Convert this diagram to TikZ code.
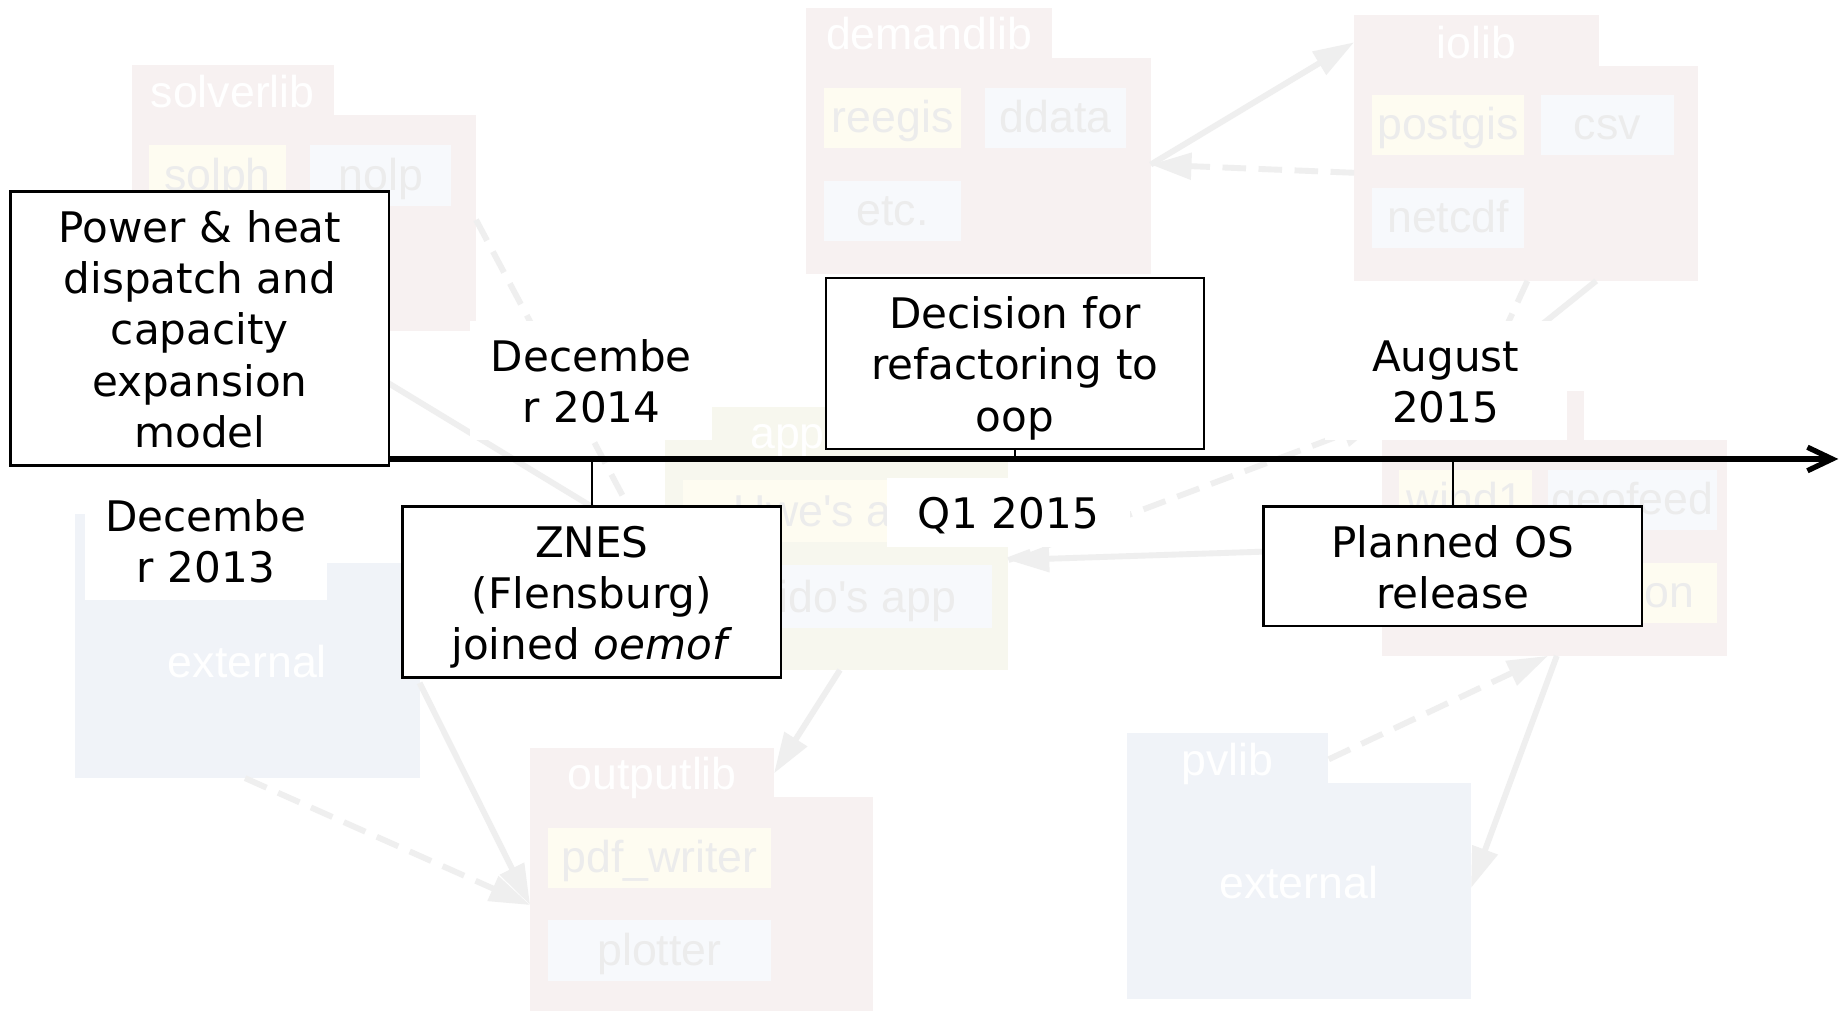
\documentclass[tikz,border=0pt]{standalone}
\usepackage{fontspec}
\setmainfont{DejaVu Sans}
\newfontfamily\pkgfont{Liberation Sans}
\usetikzlibrary{arrows.meta}

\newcommand{\evstrut}{\rule[-0.22em]{0pt}{1.22em}}

\begin{document}
\begin{tikzpicture}[x=0.75pt,y=0.75pt,yscale=-1,xscale=1,
  pkg/.style={fill={rgb, 255:red, 247; green, 241; blue, 241 }},
  extpkg/.style={fill={rgb, 255:red, 240; green, 243; blue, 248 }},
  apppkg/.style={fill={rgb, 255:red, 247; green, 247; blue, 238 }},
  own/.style={fill={rgb, 255:red, 254; green, 252; blue, 241 }},
  other/.style={fill={rgb, 255:red, 247; green, 249; blue, 252 }},
  tabtext/.style={text=white, font=\pkgfont\fontsize{28.5}{34}\selectfont, anchor=base, inner sep=0pt},
  boxtext/.style={tabtext, text={rgb, 255:red, 236; green, 236; blue, 236 }},
  uses/.style={draw={rgb, 255:red, 239; green, 239; blue, 239 }, line width=3.75pt, -{Triangle[length=26pt,width=16.5pt]}},
  maybe/.style={uses, dash pattern=on 15pt off 8pt},
  event/.style={draw, fill=white, line width=1.5pt, text width=229.5pt, inner xsep=6pt, inner ysep=5.36pt, align=center, font=\fontsize{26.85}{32.8}\selectfont, execute at begin node=\evstrut, execute at end node=\evstrut},
  when/.style={event, draw=none, text width=142.5pt},
  stem/.style={line width=1.5pt},
  timeline/.style={line width=3.4pt, -{Straight Barb[length=15.75pt,width=15pt]}}
]
%set diagram size: 1568 x 860
\fill[white] (0,0) rectangle (1568,860);
\useasboundingbox (0,0) rectangle (1568,860);

%Shape: solverlib
\fill[pkg] (112,55) rectangle (284,98);
\fill[pkg] (112,98) rectangle (405,282);
\fill[own] (127,123) rectangle (243,175);
\fill[other] (264,123) rectangle (384,175);
% Text Node
\node[tabtext] (solverlib) at (198,91.5) {solverlib};
\node[boxtext] (solph) at (185,162) {solph};
\node[boxtext] (nolp) at (324,162) {nolp};

%Shape: demandlib
\fill[pkg] (686,7) rectangle (895,49);
\fill[pkg] (686,49) rectangle (979,233);
\fill[own] (701,75) rectangle (818,126);
\fill[other] (838,75) rectangle (958,126);
\fill[other] (701,154) rectangle (818,205);
% Text Node
\node[tabtext] (demandlib) at (790.5,42.5) {demandlib};
\node[boxtext] (reegis) at (759.5,113) {reegis};
\node[boxtext] (ddata) at (898,113) {ddata};
\node[boxtext] (etc) at (759.5,192) {etc.};

%Shape: iolib
\fill[pkg] (1152,13) rectangle (1360,56);
\fill[pkg] (1152,56) rectangle (1445,239);
\fill[own] (1167,81) rectangle (1297,132);
\fill[other] (1311,81) rectangle (1424,132);
\fill[other] (1167,160) rectangle (1297,211);
% Text Node
\node[tabtext] (iolib) at (1256,49.5) {iolib};
\node[boxtext] (postgis) at (1232,119) {postgis};
\node[boxtext] (csv) at (1367.5,119) {csv};
\node[boxtext] (netcdf) at (1232,198) {netcdf};

%Shape: app
\fill[apppkg] (566,346) rectangle (774,388);
\fill[apppkg] (566,388) rectangle (858,570);
\fill[own] (581,408) rectangle (844,461);
\fill[other] (581,481) rectangle (844,534);
% Text Node
\node[tabtext] (app) at (670,381.5) {app};
\node[boxtext] (uwe) at (712.5,448) {Uwe's app};
\node[boxtext] (guido) at (712.5,521) {Guido's app};

%Shape: outputlib
\fill[pkg] (451,636) rectangle (658.5,678);
\fill[pkg] (451,678) rectangle (743,862);
\fill[own] (466,704.5) rectangle (656,755.5);
\fill[other] (466,783) rectangle (656,834.5);
% Text Node
\node[tabtext] (outputlib) at (555,671.5) {outputlib};
\node[boxtext] (pdfwriter) at (561,742.5) {pdf\_writer};
\node[boxtext] (plotter) at (561,821.5) {plotter};

%Shape: external (left)
\fill[extpkg] (64,437) rectangle (237,479);
\fill[extpkg] (64,479) rectangle (357,662);
% Text Node
\node[tabtext] (extleft) at (210.5,576.5) {external};

%Shape: pvlib
\fill[extpkg] (959,624) rectangle (1130,666);
\fill[extpkg] (959,666) rectangle (1251.5,850);
% Text Node
\node[tabtext] (pvlib) at (1044.5,659.5) {pvlib};
\node[tabtext] (extright) at (1105,764) {external};

%Shape: wind package
\fill[pkg] (1176,333) rectangle (1348,374);
\fill[pkg] (1176,374) rectangle (1469,558);
\fill[own] (1190,400) rectangle (1303,451);
\fill[other] (1317,400) rectangle (1461,451);
\fill[own] (1317,479) rectangle (1461,530);
% Text Node
\node[boxtext] (wind1) at (1246.5,438) {wind1};
\node[boxtext] (geofeed) at (1389,438) {geofeed};
\node[boxtext, anchor=base east] (windon) at (1442,517) {on};

%Connector ends
\coordinate (solverlib-s) at (258,282);
\coordinate (solverlib-e) at (405,187);
\coordinate (app-w1) at (566,469);
\coordinate (app-w2) at (566,490);
\coordinate (app-s) at (714.6,570);
\coordinate (app-e) at (858,476.5);
\coordinate (demandlib-e) at (979,140);
\coordinate (iolib-w1) at (1152,36);
\coordinate (iolib-w2) at (1152,147);
\coordinate (iolib-s1) at (1299.5,239);
\coordinate (iolib-s2) at (1358,239);
\coordinate (wind-n1) at (1256,333);
\coordinate (wind-n2) at (1241,333);
\coordinate (wind-w1) at (1176,357);
\coordinate (wind-w2) at (1176,466);
\coordinate (wind-s1) at (1317,558);
\coordinate (wind-s2) at (1324.5,558);
\coordinate (outputlib-e) at (658.5,658);
\coordinate (outputlib-w) at (451,770);
\coordinate (extleft-e) at (357,581);
\coordinate (extleft-s) at (208.5,662);
\coordinate (pvlib-e1) at (1130.5,646);
\coordinate (pvlib-e2) at (1251.5,755.5);

%Straight Lines
\draw[uses] (solverlib-s) -- (app-w1);
\draw[maybe] (solverlib-e) -- (app-w2);
\draw[maybe] (iolib-w2) -- (demandlib-e);
\draw[uses] (demandlib-e) -- (iolib-w1);
\draw[maybe] (iolib-s1) -- (wind-n1);
\draw[uses] (iolib-s2) -- (wind-n2);
\draw[maybe] (app-e) -- (wind-w1);
\draw[uses] (wind-w2) -- (app-e);
\draw[uses] (app-s) -- (outputlib-e);
\draw[uses] (extleft-e) -- (outputlib-w);
\draw[maybe] (extleft-s) -- (outputlib-w);
\draw[maybe] (pvlib-e1) -- (wind-s1);
\draw[uses] (wind-s2) -- (pvlib-e2);

% Text Node
\node[when, anchor=north] (dec13) at (175,408) {Decembe\\r 2013};
\node[when, anchor=north] (dec14) at (503,272) {Decembe\\r 2014};
\node[when, anchor=north] (q115) at (858,406) {Q1 2015};
\node[when, anchor=north] (aug15) at (1230,272) {August\\2015};

% Text Node
\node[event, anchor=north west] (power) at (8,162) {Power \& heat\\dispatch and\\capacity\\expansion\\model};
\node[event, anchor=south] (refactor) at (863.5,383) {Decision for\\refactoring to\\oop};
\node[event, anchor=north] (znes) at (503.5,430) {ZNES\\(Flensburg)\\joined \textit{oemof}};
\node[event, anchor=north] (release) at (1236,430) {Planned OS\\release};

%Timeline
\coordinate (tl) at (1564,390.5);
\draw[stem] (znes.north) -- (znes.north |- tl);
\draw[stem] (refactor.south) -- (refactor.south |- tl);
\draw[stem] (release.north) -- (release.north |- tl);
\draw[timeline] (power.east |- tl) -- (tl);

\end{tikzpicture}
\end{document}
